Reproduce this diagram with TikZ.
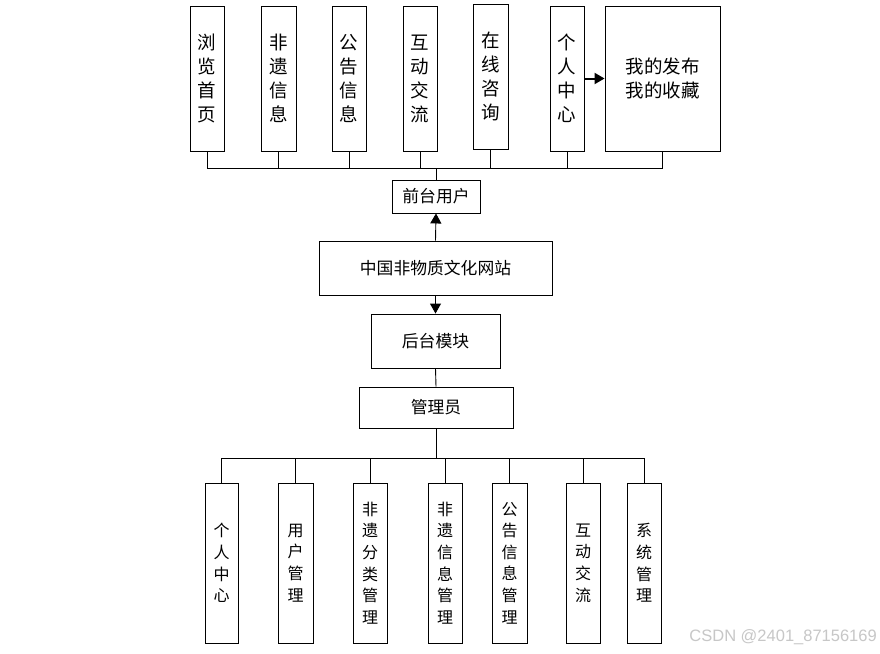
\documentclass[tikz,border=0pt]{standalone}
\usepackage{fontspec}
\setmainfont{Noto Sans CJK SC}
\newfontfamily\wmfont{Liberation Sans}
\usetikzlibrary{arrows.meta}
\tikzset{
  box/.style={draw=black, line width=0.9pt, inner sep=0pt, align=center, fill=white},
  topbox/.style={box, minimum width=34pt, minimum height=145pt, font=\fontsize{18.5}{24}\selectfont},
  botbox/.style={box, minimum width=34pt, minimum height=160pt, font=\fontsize{16}{21.6}\selectfont},
  midbox/.style={box, font=\fontsize{16.8}{19}\selectfont},
  conn/.style={draw=black, line width=0.9pt},
  arr/.style={conn, -{Triangle[length=10pt,width=11pt]}},
  bigarr/.style={draw=black, line width=2pt, -{Triangle[length=10pt,width=11pt]}},
}
\begin{document}
\begin{tikzpicture}[x=1pt,y=-1pt]
\useasboundingbox[fill=white] (0,0) rectangle (880,653);
% top row
\node[topbox] (t1) at (207,78.5) {浏\\览\\首\\页};
\node[topbox, minimum width=35pt] (t2) at (278.5,78.5) {非\\遗\\信\\息};
\node[topbox] (t3) at (349,78.5) {公\\告\\信\\息};
\node[topbox] (t4) at (420,78.5) {互\\动\\交\\流};
\node[topbox, minimum width=35pt] (t5) at (490.5,76.5) {在\\线\\咨\\询};
\node[topbox] (t6) at (567,78.5) {个\\人\\中\\心};
\node[topbox, minimum width=115pt] (t7) at (662.5,78.5) {我的发布\\我的收藏};
\draw[bigarr] (t6.east) -- (t7.west);
% front user
\node[midbox, minimum width=88pt, minimum height=33pt] (front) at (436,196.5) {前台用户};
\coordinate (bt) at (436,168);
\draw[conn] (t1.south |- bt) -- (t7.south |- bt);
\foreach \n in {t1,t2,t3,t4,t5,t6,t7} \draw[conn] (\n.south) -- (\n.south |- bt);
\draw[conn] (bt) -- (front.north);
% middle
\node[midbox, minimum width=233pt, minimum height=54pt] (site) at (435.5,268) {中国非物质文化网站};
\node[midbox, minimum width=129pt, minimum height=54pt] (back) at (435.5,341) {后台模块};
\node[midbox, minimum width=154pt, minimum height=41pt] (admin) at (436,407.5) {管理员};
\draw[arr] (site.north) -- (front.south);
\draw[arr] (site.south) -- (back.north);
\draw[conn] (back.south) -- (admin.north);
% bottom row
\node[botbox, minimum width=33pt] (b1) at (221.5,563) {个\\人\\中\\心};
\node[botbox, minimum width=35pt] (b2) at (295.5,563) {用\\户\\管\\理};
\node[botbox] (b3) at (370,563) {非\\遗\\分\\类\\管\\理};
\node[botbox] (b4) at (445,563) {非\\遗\\信\\息\\管\\理};
\node[botbox, minimum width=35pt] (b5) at (509.5,563) {公\\告\\信\\息\\管\\理};
\node[botbox] (b6) at (583,563) {互\\动\\交\\流};
\node[botbox] (b7) at (644,563) {系\\统\\管\\理};
\coordinate (bb) at (436,458);
\draw[conn] (admin.south) -- (bb);
\draw[conn] (b1.north |- bb) -- (b7.north |- bb);
\foreach \n in {b1,b2,b3,b4,b5,b6,b7} \draw[conn] (\n.north) -- (\n.north |- bb);
% watermark
\node[anchor=east, text=black!22, font=\wmfont\fontsize{16.5}{18}\selectfont, inner sep=0pt] (wm) at (877,637) {CSDN @2401\_87156169};
\end{tikzpicture}
\end{document}
